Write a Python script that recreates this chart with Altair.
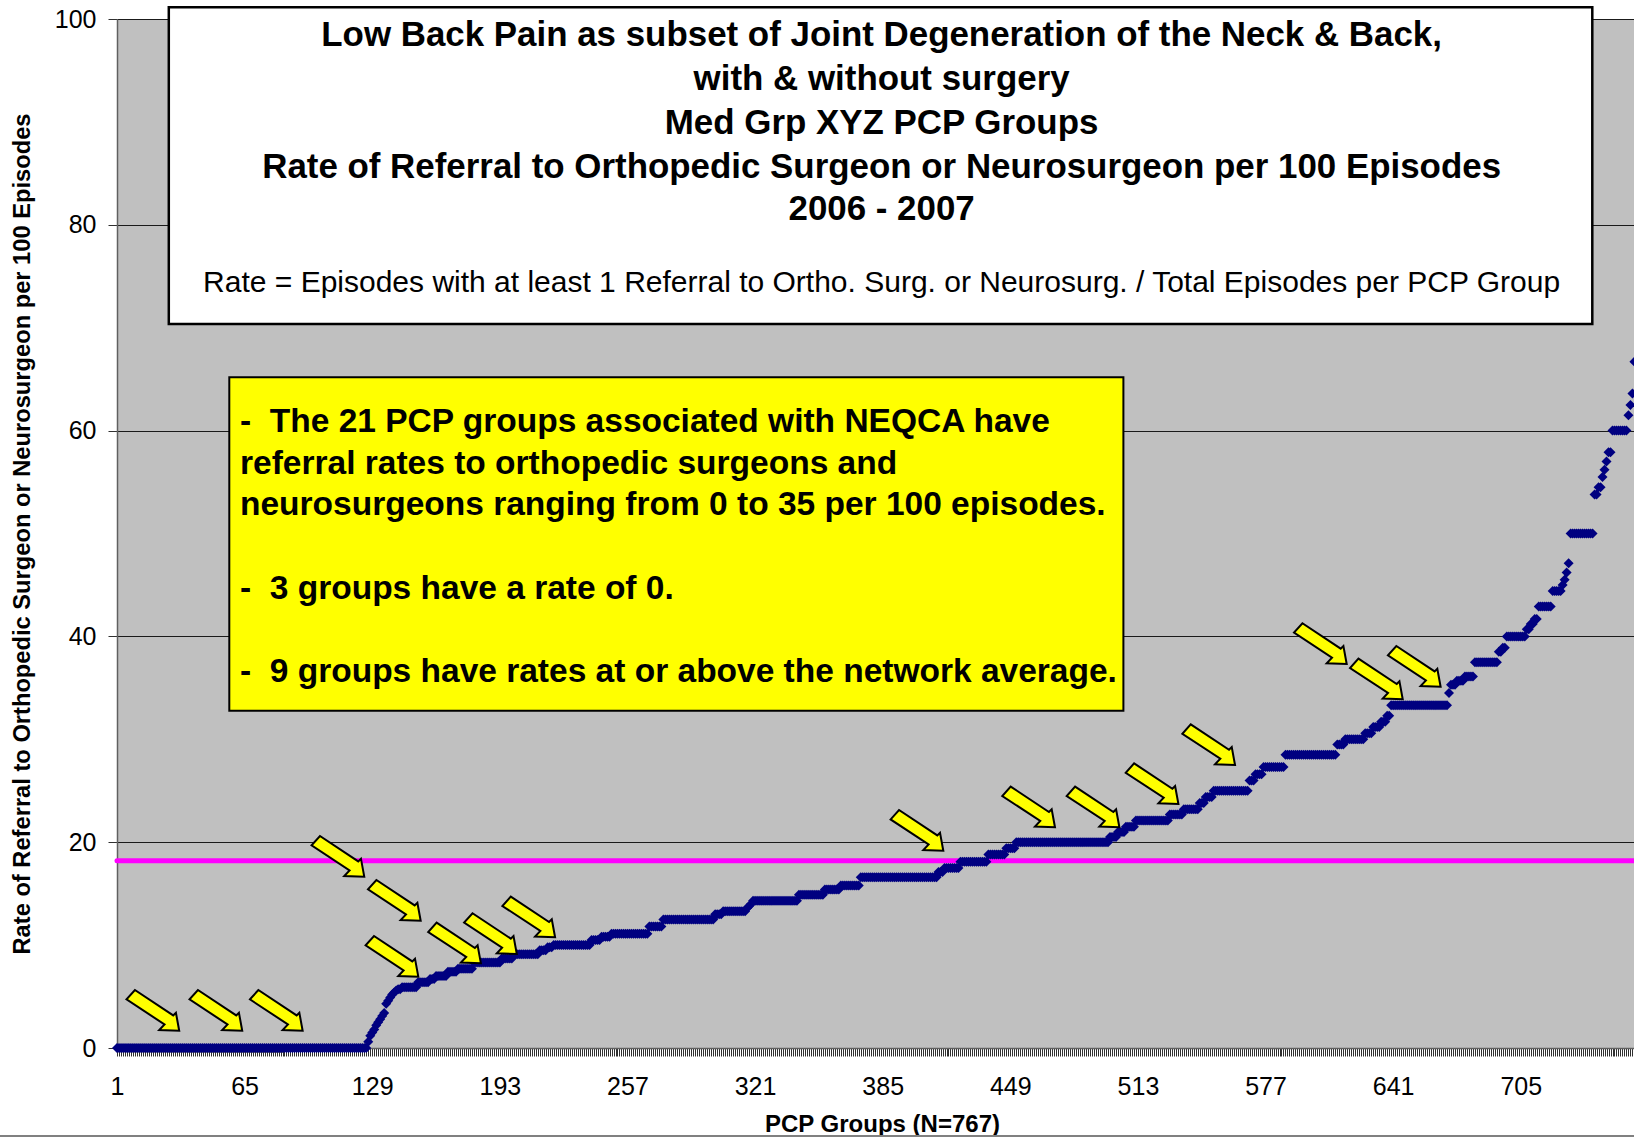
import altair as alt
import pandas as pd

FONT = "Liberation Sans"

# Referral rate per 100 episodes for each PCP group, in ascending order,
# written as successive rate levels and the number of groups at each level.
rate_levels = [
    0.0,
    0.6, 1.2, 1.5, 1.8, 2.2, 2.5, 2.8, 3.1, 3.4, 4.3, 4.6, 4.9, 5.2, 5.4, 5.6, 5.7,
    5.9, 6.4, 6.7, 7.0, 7.4, 7.7, 8.3, 8.7, 9.1, 9.5, 9.8, 10.0, 10.5, 10.8, 11.1,
    11.8, 12.5, 13.0, 13.3, 13.6, 13.8, 14.0, 14.3, 14.9, 15.4, 15.8, 16.6, 17.1,
    17.5, 18.1, 18.8, 19.4, 20.0, 20.5, 21.0, 21.5, 22.1, 22.7, 23.2, 23.8, 24.4,
    25.0, 26.0, 26.6, 27.3, 28.5, 29.5, 30.0, 30.6, 31.2, 31.7, 32.3, 33.3, 34.5,
    35.3, 35.7, 36.1, 37.5, 38.5, 38.9, 40.0, 40.7, 41.2, 41.7, 42.9, 44.4, 45.0,
    45.5, 46.2, 47.1, 50.0, 53.8, 54.5, 55.5, 56.2, 57.0, 57.9, 60.0, 61.5, 62.5,
    63.6, 66.7,
]
run_lengths = [
    126,
    1, 1, 1, 1, 1, 1, 1, 1, 1, 1, 1, 1, 1, 1, 1, 2,
    8, 6, 3, 6, 5, 8, 14, 6, 13, 4, 3, 19, 5, 5, 19,
    7, 26, 4, 12, 1, 1, 1, 23, 13, 8, 10, 39, 3,
    8, 14, 9, 5, 47, 4, 4, 5, 17, 7, 8, 3, 4,
    18, 3, 4, 11, 26, 4, 10, 4, 4, 3, 2, 29, 1,
    3, 4, 5, 12, 2, 2, 10, 2, 2, 2, 7, 5, 1,
    1, 1, 1, 12, 2, 2, 1, 1, 1, 2, 8, 1, 1,
    1, 1,
]

network_average = 18.2
group_count = 767

# Tips of the arrows marking the NEQCA-associated groups (group index, rate)
arrow_group = [32.2, 63.8, 94.1, 125.0, 153.3, 152.1, 183.5, 201.5, 220.7,
               415.4, 471.4, 503.7, 533.3, 561.7, 617.7, 645.8, 664.8]
arrow_rate = [1.68, 1.68, 1.68, 16.65, 12.37, 6.93, 8.23, 9.14, 10.76,
              19.17, 21.45, 21.45, 23.71, 27.50, 37.32, 33.89, 35.11]

y_ticks = [0, 20, 40, 60, 80, 100]
x_label_step = 64

title_lines = [
    "Low Back Pain as subset of Joint Degeneration of the Neck & Back,",
    "with & without surgery",
    "Med Grp XYZ PCP Groups",
    "Rate of Referral to Orthopedic Surgeon or Neurosurgeon per 100 Episodes",
    "2006 - 2007",
]
formula_line = ("Rate = Episodes with at least 1 Referral to Ortho. Surg. or "
                "Neurosurg. / Total Episodes per PCP Group")
note_lines = [
    "-\u00a0\u00a0The 21 PCP groups associated with NEQCA have",
    "referral rates to orthopedic surgeons and",
    "neurosurgeons ranging from 0 to 35 per 100 episodes.",
    "-\u00a0\u00a03 groups have a rate of 0.",
    "-\u00a0\u00a09 groups have rates at or above the network average.",
]

# ---- tables ---------------------------------------------------------------
rates = []
for level, n in zip(rate_levels, run_lengths):
    rates.extend([level] * n)
assert len(rates) == 762
rates_df = pd.DataFrame({"group": range(1, len(rates) + 1), "rate": rates})
arrows_df = pd.DataFrame({"group": arrow_group, "rate": arrow_rate})
one_row = pd.DataFrame({"k": [0]})

# ---- geometry of the plot area --------------------------------------------
PLOT_W, PLOT_H = 1517, 1029
x_max = 1 + PLOT_W / 1.994

x_scale = alt.Scale(domain=[1, x_max], nice=False, zero=False)
y_scale = alt.Scale(domain=[0, 100], nice=False)

x_axis = alt.Axis(
    values=list(range(1, int(x_max) + 1)),
    labelExpr=f"(datum.value - 1) % {x_label_step} == 0 ? datum.label : ''",
    labelOverlap=False, labelFlush=False,
    labelFont=FONT, labelFontSize=25, labelColor="black", labelPadding=18,
    tickSize=8, tickColor="#303030", tickWidth=1,
    domainColor="#606060", domainWidth=1.5, grid=False,
    title=f"PCP Groups (N={group_count})", titleFont=FONT, titleFontSize=24,
    titleFontWeight="bold", titleColor="black",
    titleX=765, titleY=83, titleAlign="center", titleBaseline="alphabetic",
)
y_axis = alt.Axis(
    values=y_ticks, labelFont=FONT, labelFontSize=25, labelColor="black",
    labelPadding=12, tickSize=9, tickColor="#303030", tickWidth=1,
    domainColor="#606060", domainWidth=1.5,
    grid=True, gridColor="#1a1a1a", gridWidth=1,
    title="Rate of Referral to Orthopedic Surgeon or Neurosurgeon per 100 Episodes",
    titleFont=FONT, titleFontSize=23.7, titleFontWeight="bold", titleColor="black",
    titleX=-88, titleY=PLOT_H / 2, titleAngle=270, titleAlign="center",
    titleBaseline="alphabetic",
)

# Block arrow pointing down-right, tip at the symbol origin
ARROW = ("M0,0 L-0.125,-0.683 L-0.228,-0.581 L-1.681,-1.545 L-2,-1.188 "
         "L-0.558,-0.239 L-0.759,-0.027 Z")

avg_line = alt.Chart(one_row).mark_rule(
    color="#FF00FF", strokeWidth=5, strokeCap="round"
).encode(
    x=alt.XDatum(1, scale=x_scale, axis=x_axis),
    x2=alt.X2Datum(group_count),
    y=alt.YDatum(network_average, scale=y_scale, axis=y_axis),
)

points = alt.Chart(rates_df).mark_point(
    shape="diamond", filled=True, size=100, color="#000080", opacity=1
).encode(
    x=alt.X("group:Q", scale=x_scale, axis=x_axis),
    y=alt.Y("rate:Q", scale=y_scale, axis=y_axis),
)

arrows = alt.Chart(arrows_df).mark_point(
    shape=ARROW, filled=True, fill="#FFFF00", stroke="black", strokeWidth=2,
    size=2777, opacity=1, strokeJoin="miter",
).encode(
    x=alt.X("group:Q", scale=x_scale, axis=x_axis),
    y=alt.Y("rate:Q", scale=y_scale, axis=y_axis),
)

title_box = alt.Chart(one_row).mark_rect(
    fill="white", stroke="black", strokeWidth=2.5
).encode(x=alt.value(51.8), x2=alt.value(1475.3), y=alt.value(-11.7), y2=alt.value(305))

title_y = [17.4, 61.2, 104.9, 148.7, 191.4]
title_text = [
    alt.Chart(one_row).mark_text(
        font=FONT, fontSize=34.9, fontWeight="bold", color="black",
        align="center", baseline="middle",
    ).encode(x=alt.value(764.6), y=alt.value(ty), text=alt.value(line))
    for line, ty in zip(title_lines, title_y)
]
formula_text = alt.Chart(one_row).mark_text(
    font=FONT, fontSize=30, color="black", align="center", baseline="middle"
).encode(x=alt.value(764.6), y=alt.value(264.4), text=alt.value(formula_line))

note_box = alt.Chart(one_row).mark_rect(
    fill="#FFFF00", stroke="black", strokeWidth=2
).encode(x=alt.value(112.3), x2=alt.value(1006.4), y=alt.value(358.2), y2=alt.value(691.7))

note_y = [403, 444.6, 486.3, 569.7, 653]
note_text = [
    alt.Chart(one_row).mark_text(
        font=FONT, fontSize=33.5, fontWeight="bold", color="black",
        align="left", baseline="middle",
    ).encode(x=alt.value(123), y=alt.value(ny), text=alt.value(line))
    for line, ny in zip(note_lines, note_y)
]

bottom_line = alt.Chart(one_row).mark_rule(color="#808080", strokeWidth=2).encode(
    x=alt.value(-117), x2=alt.value(PLOT_W), y=alt.value(1117)
)

chart = alt.layer(
    avg_line, points, arrows, title_box, *title_text, formula_text,
    note_box, *note_text, bottom_line,
).properties(
    width=PLOT_W, height=PLOT_H,
    autosize=alt.AutoSizeParams(type="none"),
    padding={"left": 117, "top": 19, "right": 0, "bottom": 90},
    background="white",
).configure_view(fill="#C0C0C0", strokeWidth=0)

chart.save("out.html", embed_options={"renderer": "svg", "actions": False})
